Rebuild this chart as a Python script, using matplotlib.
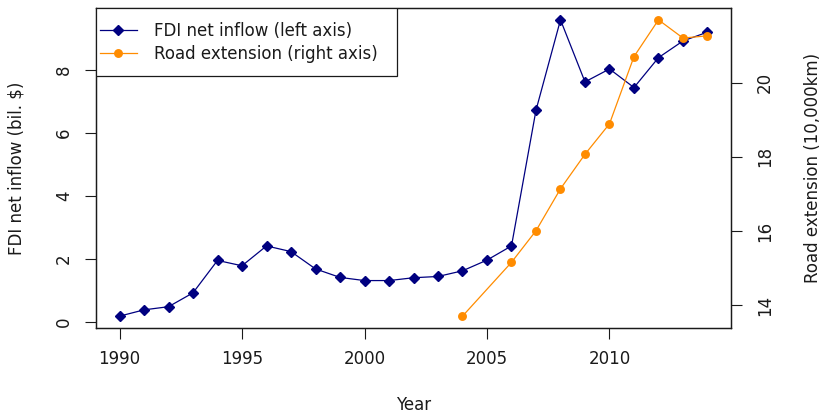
import matplotlib
matplotlib.use("Agg")
import matplotlib.pyplot as plt
from matplotlib.patches import Rectangle

plt.rcParams['font.family'] = ['DejaVu Sans']

# FDI net inflow (billion $), 1990-2014
fdi_years = list(range(1990, 2015))
fdi = [0.17, 0.37, 0.47, 0.91, 1.94, 1.77, 2.40, 2.22, 1.67, 1.40,
       1.30, 1.30, 1.39, 1.43, 1.61, 1.95, 2.40, 6.71, 9.58, 7.61,
       8.02, 7.43, 8.38, 8.91, 9.19]

# road extension (10,000 km)
road_years = [2004, 2006, 2007, 2008, 2009, 2010, 2011, 2012, 2013, 2014]
road = [13.71, 15.16, 16.01, 17.14, 18.07, 18.89, 20.70, 21.69, 21.20, 21.26]

fdi_ticks = [0, 2, 4, 6, 8]
road_ticks = [14, 16, 18, 20]
year_ticks = [1990, 1995, 2000, 2005, 2010]


def rlim(vals):
    # R style axis range: data range + 4% each side
    lo, hi = min(vals), max(vals)
    d = (hi - lo) * 0.04
    return lo - d, hi + d


W, H = 825, 419
fig = plt.figure(figsize=(W / 100, H / 100), dpi=100)
ax = fig.add_axes([96 / W, 1 - 328 / H, 635 / W, 320 / H])
ax2 = ax.twinx()

fs = 12
txt = '#1a1a1a'
l1, = ax.plot(fdi_years, fdi, color='#000080', lw=0.9, marker='D',
              markersize=4.8, label='FDI net inflow (left axis)')
l2, = ax2.plot(road_years, road, color='#FF8C00', lw=0.9, marker='o',
               markersize=5.4, label='Road extension (right axis)')

ax.set_xlim(rlim(fdi_years))
ax.set_ylim(rlim(fdi))
ax2.set_ylim(rlim(road))

ax.set_xticks(year_ticks)
ax.set_yticks(fdi_ticks)
ax2.set_yticks(road_ticks)

ax.tick_params(axis='x', direction='out', length=8, width=0.8, pad=7.6,
               labelsize=fs, colors=txt)
ax.tick_params(axis='y', direction='out', length=8, width=0.8, pad=8.5,
               labelsize=fs, colors=txt, labelrotation=90)
ax2.tick_params(axis='y', direction='out', length=8, width=0.8, pad=9.8,
                labelsize=fs, colors=txt, labelrotation=90)
for lab in ax.get_yticklabels() + ax2.get_yticklabels():
    lab.set_va('center')

for a in (ax, ax2):
    for s in a.spines.values():
        s.set_linewidth(0.9)
        s.set_color(txt)

fig.text(414 / W, 1 - 405 / H, 'Year', ha='center', va='center',
         fontsize=fs, color=txt)
fig.text(17 / W, 1 - 168 / H, 'FDI net inflow (bil. $)', ha='center',
         va='center', rotation=90, fontsize=fs, color=txt)
fig.text(813 / W, 1 - 168 / H, 'Road extension (10,000km)', ha='center',
         va='center', rotation=90, fontsize=fs, color=txt)

# legend box in the top-left corner, R style
box = Rectangle((0, 0.7875), 0.474, 0.2125, transform=ax2.transAxes,
                facecolor='white', edgecolor=txt, lw=0.9, zorder=5)
ax2.add_patch(box)
leg = ax2.legend(handles=[l1, l2], loc='upper left',
                 bbox_to_anchor=(4 / 635, 1 - 14 / 320), fontsize=fs,
                 frameon=False, borderaxespad=0, borderpad=0,
                 handlelength=2.2, handletextpad=1.05, labelspacing=0.28)
leg.set_zorder(6)
for t in leg.get_texts():
    t.set_color(txt)

fig.savefig('out.png', dpi=100)
